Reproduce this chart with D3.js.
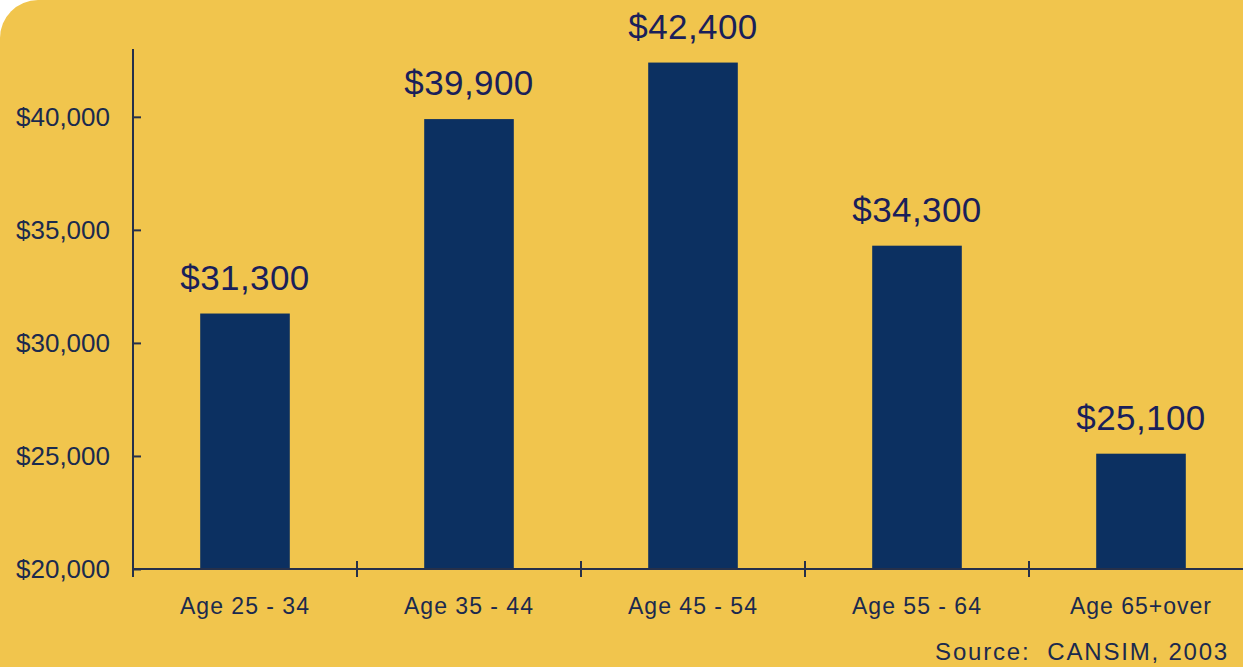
<!DOCTYPE html>
<html>
<head>
<meta charset="utf-8">
<script src="https://cdn.jsdelivr.net/npm/d3@7"></script>
<style>
  body { margin: 0; background: #fff; }
  svg { display: block; }
</style>
</head>
<body>
<div id="chart"></div>
<script>
const categories = ["Age 25 - 34", "Age 35 - 44", "Age 45 - 54", "Age 55 - 64", "Age 65+over"];
const incomes = [31300, 39900, 42400, 34300, 25100];
const yTicks = [20000, 25000, 30000, 35000, 40000];

const width = 1243, height = 667;
const bg = "#F1C54D", navy = "#0C3061", ink = "#1B2A4E";
const margin = { top: 49, left: 133, bottom: 98 };

const svg = d3.select("#chart").append("svg")
  .attr("width", width)
  .attr("height", height);

// yellow panel, rounded corner top-left
svg.append("rect")
  .attr("x", 0).attr("y", 0)
  .attr("width", width + 200).attr("height", height + 200)
  .attr("rx", 38).attr("ry", 38)
  .attr("fill", bg);

const x = d3.scaleBand()
  .domain(categories)
  .range([margin.left, margin.left + 224 * categories.length])
  .paddingInner(0.6).paddingOuter(0.3);

const y = d3.scaleLinear()
  .domain([20000, 43000])
  .range([height - margin.bottom, margin.top]);

const fmt = d => "$" + d3.format(",")(d);

// bars
svg.append("g")
  .selectAll("rect")
  .data(incomes)
  .join("rect")
  .attr("x", (d, i) => x(categories[i]))
  .attr("y", d => y(d))
  .attr("width", x.bandwidth())
  .attr("height", d => y(20000) - y(d))
  .attr("fill", navy);

// value labels
svg.append("g")
  .selectAll("text")
  .data(incomes)
  .join("text")
  .attr("x", (d, i) => x(categories[i]) + x.bandwidth() / 2)
  .attr("y", d => y(d) - 24)
  .attr("text-anchor", "middle")
  .attr("fill", "#1a1f5a")
  .style("font-family", "'Liberation Sans', Arial, sans-serif")
  .style("font-size", "35px")
  .style("letter-spacing", "0.4px")
  .text(fmt);

// y axis
const yAxis = svg.append("g")
  .attr("transform", "translate(" + margin.left + ",0)")
  .call(d3.axisLeft(y).tickValues(yTicks).tickFormat(fmt).tickSizeInner(8).tickSizeOuter(0).tickPadding(15));
yAxis.selectAll(".tick line").attr("x2", 8);
yAxis.select(".domain").attr("d", "M0," + y(43000) + "V" + y(20000));

// x axis
const step = x.step();
const xBounds = d3.range(categories.length + 1).map(i => margin.left + i * step);
const xAxis = svg.append("g")
  .attr("transform", "translate(0," + y(20000) + ")");
xAxis.append("path")
  .attr("d", "M" + margin.left + ",0H" + (width + 20));
xAxis.selectAll("line")
  .data(xBounds)
  .join("line")
  .attr("x1", d => d).attr("x2", d => d)
  .attr("y1", -8).attr("y2", 8);
xAxis.selectAll("text")
  .data(categories)
  .join("text")
  .attr("x", d => x(d) + x.bandwidth() / 2)
  .attr("y", 45)
  .attr("text-anchor", "middle")
  .attr("fill", ink)
  .style("font-family", "'Liberation Sans', Arial, sans-serif")
  .style("font-size", "23px")
  .style("letter-spacing", "1px")
  .text(d => d);

[yAxis, xAxis].forEach(a => {
  a.selectAll("path, line").attr("stroke", "#26304a").attr("stroke-width", 2).attr("fill", "none");
});
yAxis.attr("font-size", null);
yAxis.selectAll(".tick text")
  .attr("fill", ink)
  .style("font-family", "'Liberation Sans', Arial, sans-serif")
  .style("font-size", "26px");

// source
svg.append("text")
  .attr("x", 1229)
  .attr("y", 660)
  .attr("text-anchor", "end")
  .attr("fill", ink)
  .style("font-family", "'Liberation Sans', Arial, sans-serif")
  .style("font-size", "24px")
  .style("letter-spacing", "1.8px")
  .attr("xml:space", "preserve")
  .text("Source:  CANSIM, 2003");
</script>
</body>
</html>
